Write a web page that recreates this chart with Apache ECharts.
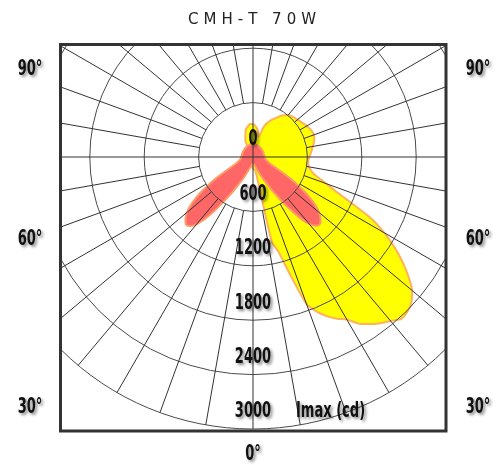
<!DOCTYPE html>
<html>
<head>
<meta charset="utf-8">
<style>
  html, body { margin: 0; padding: 0; background: #fff; }
  #main { width: 504px; height: 465px; }
</style>
<script src="https://cdn.jsdelivr.net/npm/echarts@6/dist/echarts.min.js"></script>
</head>
<body>
<div id="main"></div>
<script>
var dom = document.getElementById("main");
var myChart = echarts.init(dom);

var chartTitle = 'CMH-T 70W';
// intensity rings (cd)
var ringValues = [0, 600, 1200, 1800, 2400, 3000];
// spokes every 10 degrees
var spokeAngles = [0, 10, 20, 30, 40, 50, 60, 70, 80, 90, 100, 110, 120, 130, 140, 150, 160, 170,
                   180, 190, 200, 210, 220, 230, 240, 250, 260, 270, 280, 290, 300, 310, 320, 330, 340, 350];
var sideLabels = ['90°', '60°', '30°'];
var bottomLabel = '0°';
var unitLabel = 'Imax (cd)';

// yellow curve: angle (0 = down, 90 = right) and intensity cd
var yellowAngles = [0, 10, 12.5, 15, 17.5, 20, 22.5, 25, 27.5, 30, 32.5, 35, 37.5, 40, 42.5, 45, 47.5, 50,
                    52.5, 55, 57.5, 60, 62.5, 65, 67.5, 70, 72.5, 75, 80, 85, 90, 95, 100, 105, 110, 115,
                    120, 125, 130, 135, 140, 145, 150, 155, 160, 165, 170, 175, 180, 185, 190, 195, 200,
                    205, 210, 220, 240, 270, 300, 330, 350, 360];
var yellowCd = [130, 155, 960, 1080, 1360, 1720, 1850, 1940, 2010, 2070, 2180, 2250, 2310, 2360, 2420, 2410, 2370, 2290,
                2160, 2010, 1850, 1670, 1470, 1190, 990, 860, 755, 685, 625, 610, 620, 645, 670, 700, 715, 705,
                685, 660, 640, 625, 605, 560, 495, 440, 365, 230, 300, 340, 365, 365, 340, 310, 245,
                200, 110, 90, 90, 90, 90, 90, 95, 130];

// red curve
var redAngles = [0, 10, 20, 25, 30, 33, 36, 38, 40, 42, 44, 46, 48, 50, 52, 54, 56, 58, 60, 62, 65, 70, 80, 90,
                 120, 150, 180, 210, 240, 270, 280, 290, 295, 298, 300, 302, 304, 306, 308, 310, 312, 314, 316,
                 318, 320, 322, 324, 327, 330, 335, 340, 350, 360];
var redCd = [70, 90, 170, 270, 430, 580, 750, 870, 960, 1020, 1045, 1035, 1000, 950, 880, 790, 690, 580, 470, 370, 270, 190, 140, 130,
             125, 135, 140, 135, 125, 130, 140, 190, 270, 370, 470, 580, 690, 790, 880, 950, 1000, 1035, 1050,
             1025, 965, 875, 755, 570, 430, 270, 170, 90, 70];

function toPolar(angles, values) {
    var out = [];
    for (var i = 0; i < angles.length; i++) {
        out.push([values[i], angles[i]]);
    }
    return out;
}

var labelFont = 'bold 21px "DejaVu Sans Condensed", "DejaVu Sans", sans-serif';

// bold condensed label with soft shadow, squeezed horizontally
function labelText(txt, x, y, align) {
    return {
        type: 'text',
        z: 120,
        x: x,
        y: y,
        scaleX: 0.69,
        style: {
            text: txt,
            x: 0,
            y: 0,
            fill: '#111',
            font: labelFont,
            textAlign: align || 'center',
            textVerticalAlign: 'middle',
            textShadowColor: 'rgba(0,0,0,0.45)',
            textShadowBlur: 3,
            textShadowOffsetX: 2,
            textShadowOffsetY: 2
        }
    };
}

var sideY = [70, 240, 408];
var graphics = [
    // white mask outside the frame
    { type: 'rect', z: 100, shape: { x: 0, y: 0, width: 60, height: 465 }, style: { fill: '#fff' } },
    { type: 'rect', z: 100, shape: { x: 447, y: 0, width: 57, height: 465 }, style: { fill: '#fff' } },
    { type: 'rect', z: 100, shape: { x: 0, y: 0, width: 504, height: 44 }, style: { fill: '#fff' } },
    { type: 'rect', z: 100, shape: { x: 0, y: 432, width: 504, height: 33 }, style: { fill: '#fff' } },
    // frame
    { type: 'rect', z: 110, shape: { x: 60.5, y: 44.5, width: 385.5, height: 386.5 },
      style: { fill: 'none', stroke: '#333', lineWidth: 3 } }
];
for (var k = 0; k < sideLabels.length; k++) {
    graphics.push(labelText(sideLabels[k], 30, sideY[k]));
    graphics.push(labelText(sideLabels[k], 478, sideY[k]));
}
graphics.push(labelText(bottomLabel, 253, 455));

var option = {
    animation: false,
    title: {
        text: chartTitle.split('').join('\u2006\u2006'),
        left: 'center',
        top: 8,
        z: 200,
        textStyle: {
            fontFamily: 'DejaVu Sans',
            fontSize: 15,
            fontWeight: 'normal',
            color: '#222'
        }
    },
    polar: {
        center: [253, 157],
        radius: 272
    },
    angleAxis: {
        type: 'value',
        min: 0,
        max: 360,
        interval: 10,
        startAngle: 270,
        clockwise: false,
        axisLine: { show: false },
        axisTick: { show: false },
        axisLabel: { show: false },
        splitLine: { show: false }
    },
    radiusAxis: {
        type: 'value',
        min: 0,
        max: 3000,
        interval: 600,
        z: 4,
        axisLine: { show: false },
        axisTick: { show: false },
        axisLabel: { show: false },
        splitLine: { show: true, lineStyle: { color: '#4a4a4a', width: 1 } }
    },
    graphic: graphics,
    series: [
        {
            name: 'yellow',
            type: 'line',
            coordinateSystem: 'polar',
            data: toPolar(yellowAngles, yellowCd),
            smooth: 0.2,
            symbol: 'none',
            z: 2,
            lineStyle: { color: '#ffb15c', width: 2 },
            areaStyle: { color: '#ffff00', opacity: 1 }
        },
        {
            name: 'red',
            type: 'line',
            coordinateSystem: 'polar',
            data: toPolar(redAngles, redCd),
            smooth: 0.2,
            symbol: 'none',
            z: 3,
            lineStyle: { color: '#ff9a66', width: 2 },
            areaStyle: { color: '#ff6666', opacity: 1 }
        },
        {
            name: 'spokes',
            type: 'custom',
            coordinateSystem: 'polar',
            z: 4,
            silent: true,
            data: spokeAngles.map(function (a) { return [ringValues[ringValues.length - 1], a]; }),
            renderItem: function (params, api) {
                var a = api.value(1);
                var r0 = (a % 90 === 0) ? 0 : ringValues[1];
                var p0 = api.coord([r0, a]);
                var p1 = api.coord([api.value(0), a]);
                return {
                    type: 'line',
                    shape: { x1: p0[0], y1: p0[1], x2: p1[0], y2: p1[1] },
                    style: { stroke: '#333', lineWidth: 1 }
                };
            }
        }
    ]
};

myChart.setOption(option);

// ring value labels placed just inside each ring along the 0° spoke
var ringLabels = [];
for (var i = 0; i < ringValues.length; i++) {
    var p = myChart.convertToPixel({ polarIndex: 0 }, [ringValues[i], 0]);
    ringLabels.push(labelText(String(ringValues[i]), p[0], p[1] - 17));
}
var pMax = myChart.convertToPixel({ polarIndex: 0 }, [ringValues[ringValues.length - 1], 0]);
ringLabels.push(labelText(unitLabel, pMax[0] + 43, pMax[1] - 17, 'left'));
myChart.setOption({ graphic: graphics.concat(ringLabels) });
</script>
</body>
</html>
